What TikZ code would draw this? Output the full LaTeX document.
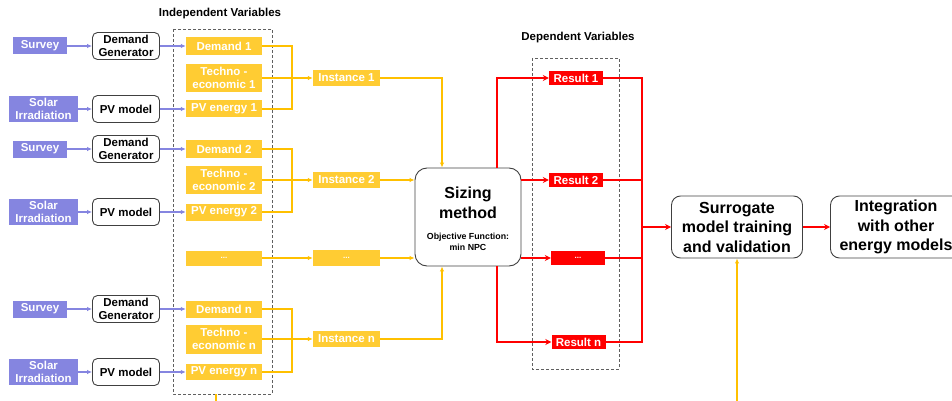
\documentclass[tikz,border=0pt]{standalone}
\usepackage{fontspec}
\setmainfont{Liberation Sans}
\usetikzlibrary{arrows.meta,calc}

\definecolor{lav}{HTML}{8585E0}
\definecolor{yfill}{HTML}{FFCC33}
\definecolor{yline}{HTML}{FFC000}
\definecolor{rfill}{HTML}{FF0000}
\definecolor{edgegray}{HTML}{404040}
\definecolor{dashgray}{HTML}{606060}

\tikzset{
  txtbase/.style={inner sep=0pt, align=center, font=\bfseries\fontsize{11.5}{13.6}\selectfont},
  srcbox/.style={txtbase, fill=lav, text=white, minimum height=17},
  modelbox/.style={txtbase, draw=edgegray, line width=0.9pt, rounded corners=5pt, fill=white,
                   minimum width=67, minimum height=27},
  varbox/.style={txtbase, fill=yfill, text=white, minimum width=76},
  instbox/.style={txtbase, fill=yfill, text=white, minimum width=67, minimum height=16},
  resbox/.style={txtbase, fill=rfill, text=white, minimum width=54, minimum height=13.5},
  bigbox/.style={draw=edgegray, line width=0.9pt, rounded corners=9pt, inner sep=0pt,
                 minimum width=131, minimum height=62, align=center,
                 font=\bfseries\fontsize{16}{19.5}\selectfont},
  titletxt/.style={inner sep=0pt, font=\bfseries\fontsize{11.5}{13}\selectfont},
  dashbox/.style={draw=dashgray, line width=0.8pt, dash pattern=on 3pt off 2pt},
  purp/.style={draw=lav, line width=1.1pt, -{Latex[length=5pt,width=4.5pt]}},
  yl/.style={draw=yline, line width=1.6pt},
  yarrow/.style={yl, -{Latex[length=5pt,width=4.5pt]}},
  rl/.style={draw=rfill, line width=1.6pt},
  rarrow/.style={rl, -{Stealth[length=6pt,width=6pt]}},
}

\begin{document}
\begin{tikzpicture}[x=1pt, y=-1pt]
\useasboundingbox (0,0) rectangle (952,401);
\clip (0,0) rectangle (952,401);

% column titles and dashed groups
\node[titletxt] (indtitle) at (220,14) {Independent Variables};
\node[titletxt] (deptitle) at (578,38) {Dependent Variables};
\draw[dashbox] (173,29) rectangle (272,394);
\draw[dashbox] (532,58) rectangle (619,369);

% data sources
\node[srcbox, minimum width=54] (sv1) at (40,46) {Survey};
\node[srcbox, minimum width=69, minimum height=26] (so1) at (43.5,109) {Solar\\Irradiation};
\node[srcbox, minimum width=54] (sv2) at (40,149) {Survey};
\node[srcbox, minimum width=69, minimum height=26] (so2) at (43.5,212) {Solar\\Irradiation};
\node[srcbox, minimum width=54] (svn) at (40,309) {Survey};
\node[srcbox, minimum width=69, minimum height=26] (son) at (43.5,372) {Solar\\Irradiation};

% models
\node[modelbox] (dg1) at (126,46) {Demand\\Generator};
\node[modelbox] (pv1) at (126,109) {PV model};
\node[modelbox] (dg2) at (126,149) {Demand\\Generator};
\node[modelbox] (pv2) at (126,212) {PV model};
\node[modelbox] (dgn) at (126,309) {Demand\\Generator};
\node[modelbox] (pvn) at (126,372) {PV model};

% independent variables
\node[varbox, minimum height=18] (d1) at (224,46) {Demand 1};
\node[varbox, minimum height=28] (t1) at (224,78) {Techno -\\economic 1};
\node[varbox, minimum height=17] (p1) at (224,109) {PV energy 1};
\node[varbox, minimum height=18] (d2) at (224,149) {Demand 2};
\node[varbox, minimum height=28] (t2) at (224,180) {Techno -\\economic 2};
\node[varbox, minimum height=17] (p2) at (224,212) {PV energy 2};
\node[varbox, minimum height=15] (ydm) at (224,258) {\fontsize{8}{9}\selectfont ...};
\node[varbox, minimum height=17] (dn) at (224,309) {Demand n};
\node[varbox, minimum height=29] (tn) at (224,339) {Techno -\\economic n};
\node[varbox, minimum height=16] (pn) at (224,372) {PV energy n};

% instances
\node[instbox] (i1) at (346.5,78) {Instance 1};
\node[instbox] (i2) at (346.5,180) {Instance 2};
\node[instbox] (idm) at (346.5,258) {\fontsize{8}{9}\selectfont ...};
\node[instbox] (in) at (346.5,339) {Instance n};

% sizing method
\node[draw=edgegray, line width=0.9pt, rounded corners=12pt, minimum width=106, minimum height=98,
      inner sep=0pt] (sz) at (468,217) {};
\node[inner sep=0pt, align=center, font=\bfseries\fontsize{16}{20}\selectfont] (sztxt) at (468,203) {Sizing\\method};
\node[inner sep=0pt, align=center, font=\bfseries\fontsize{8.8}{11}\selectfont] (szobj) at (468,241.5) {Objective Function:\\min NPC};

% results
\node[resbox] (r1) at (576,78) {Result 1};
\node[resbox] (r2) at (576,180) {Result 2};
\node[resbox] (rdm) at (578,258) {\fontsize{8}{9}\selectfont ...};
\node[resbox] (rn) at (578.5,342) {Result n};

% surrogate and integration
\node[bigbox] (sur) at (737,227) {Surrogate\\model training\\and validation};
\node[bigbox] (integ) at (896,227) {Integration\\with other\\energy models};

% helper coordinates for routing
\coordinate (jx) at (292,0);
\coordinate (c1) at (442,0);
\coordinate (rx) at (497,0);
\coordinate (cx) at (642,0);
\coordinate (ib) at (216,394);
\coordinate (low) at (0,430);

% sources -> models -> variables
\foreach \a/\b/\c in {sv1/dg1/d1, so1/pv1/p1, sv2/dg2/d2, so2/pv2/p2, svn/dgn/dn, son/pvn/pn}{
  \draw[purp] (\a) -- (\b);
  \draw[purp] (\b) -- (\c);
}

% variables grouped into instances
\foreach \d/\t/\p/\i in {d1/t1/p1/i1, d2/t2/p2/i2, dn/tn/pn/in}{
  \draw[yl] (\d.east) -- (\d.east -| jx) |- (\p.east);
  \draw[yarrow] (\t) -- (\i);
}
\draw[yarrow] (ydm) -- (idm);

% instances -> sizing method
\draw[yarrow] (i1.east) -| (c1 |- sz.north);
\draw[yarrow] (i2.east) -- (sz.west |- i2.east);
\draw[yarrow] (idm.east) -- (sz.west |- idm.east);
\draw[yarrow] (in.east) -| (c1 |- sz.south);

% sizing method -> results
\draw[rarrow] (rx |- sz.north) |- (r1.west);
\draw[rarrow] (sz.east |- r2.west) -- (r2.west);
\draw[rarrow] (sz.east |- rdm.west) -- (rdm.west);
\draw[rarrow] (rx |- sz.south) |- (rn.west);

% results -> surrogate model
\draw[rl] (r1.east) -| (cx |- rn.east) -- (rn.east);
\draw[rl] (r2.east) -- (cx |- r2.east);
\draw[rl] (rdm.east) -- (cx |- rdm.east);
\draw[rarrow] (cx |- sur.west) -- (sur.west);
\draw[rarrow] (sur) -- (integ);

% independent variables feed the surrogate model
\draw[yarrow] (ib) -- (ib |- low) -| (sur.south);
\end{tikzpicture}
\end{document}
